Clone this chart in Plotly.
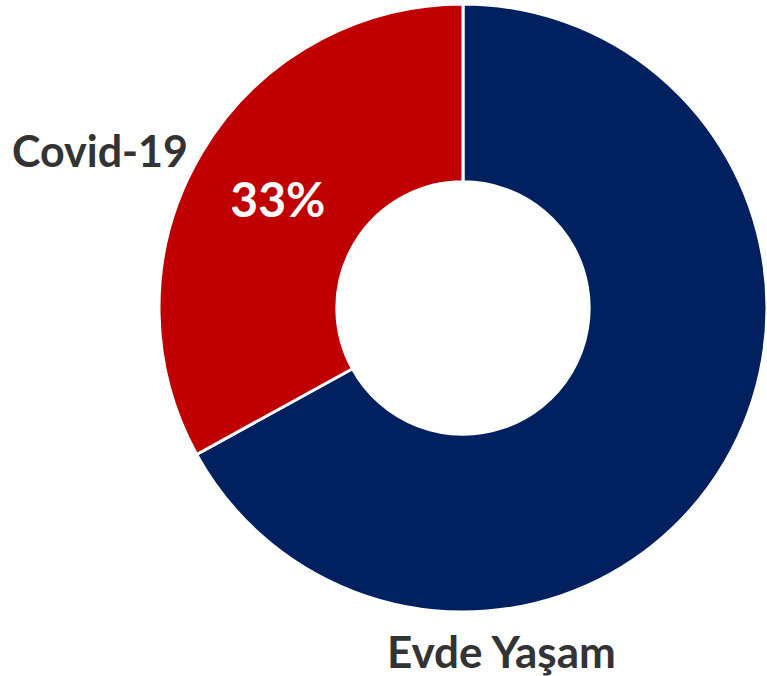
import plotly.graph_objects as go

labels = ["Evde Yaşam", "Covid-19"]
values = [67, 33]
inside_text = ["", "33%"]
colors = ["#002060", "#C00000"]

W, H = 767, 676
cx, cy, r = 463, 308, 304

fig = go.Figure(go.Pie(
    labels=labels,
    values=values,
    text=inside_text,
    textinfo="text",
    textposition="inside",
    insidetextorientation="horizontal",
    hole=0.415,
    sort=False,
    direction="clockwise",
    rotation=0,
    marker=dict(colors=colors, line=dict(color="white", width=3)),
    textfont=dict(family="Lato", size=48, color="white", weight="bold"),
    domain=dict(x=[(cx - r) / W, min(1.0, (cx + r) / W)],
                y=[(H - cy - r) / H, (H - cy + r) / H]),
    showlegend=False,
    hoverinfo="label+percent",
))

fig.add_annotation(x=100 / W, y=1 - 150 / H, xref="paper", yref="paper",
                   text="<b>Covid-19</b>", showarrow=False,
                   font=dict(family="Lato", size=43, color="#333333"),
                   xanchor="center", yanchor="middle")
fig.add_annotation(x=501 / W, y=1 - 651 / H, xref="paper", yref="paper",
                   text="<b>Evde Yaşam</b>", showarrow=False,
                   font=dict(family="Lato", size=44, color="#333333"),
                   xanchor="center", yanchor="middle")

fig.update_layout(width=W, height=H, margin=dict(l=0, r=0, t=0, b=0),
                  paper_bgcolor="white", plot_bgcolor="white")
fig.write_html("out.html")
